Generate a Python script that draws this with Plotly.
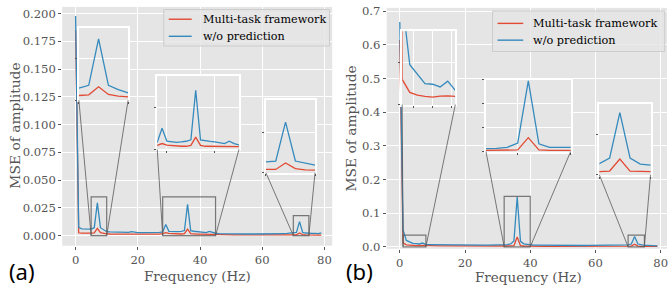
import plotly.graph_objects as go

W, H = 668, 294

# ---------------- data ----------------
freq = list(range(80))

a_multi = [0.185, 0.0026, 0.0023, 0.0022, 0.0022, 0.0023, 0.0026, 0.0065, 0.0028, 0.0020,
           0.0016, 0.0015, 0.0015, 0.0014, 0.0014, 0.0014, 0.0013, 0.0013, 0.0016, 0.0013,
           0.0013, 0.0013, 0.0012, 0.0012, 0.0012, 0.0012, 0.0012, 0.0014, 0.0019, 0.0028,
           0.0020, 0.0018, 0.0015, 0.0015, 0.0015, 0.0019, 0.0059, 0.0019, 0.0015, 0.0014,
           0.0014, 0.0013, 0.0013, 0.0012, 0.0011, 0.0008, 0.0008, 0.0008, 0.0008, 0.0008,
           0.0008, 0.0008, 0.0008, 0.0008, 0.0008, 0.0008, 0.0008, 0.0008, 0.0008, 0.0008,
           0.0008, 0.0008, 0.0008, 0.0008, 0.0009, 0.0008, 0.0009, 0.0008, 0.0008, 0.0008,
           0.0008, 0.0008, 0.0024, 0.0010, 0.0007, 0.0005, 0.0005, 0.0005, 0.0005, 0.0005]

a_wo = [0.198, 0.0075, 0.0062, 0.0060, 0.0060, 0.0059, 0.0072, 0.0296, 0.0072, 0.0051,
        0.0036, 0.0034, 0.0033, 0.0032, 0.0031, 0.0030, 0.0030, 0.0029, 0.0036, 0.0029,
        0.0028, 0.0028, 0.0028, 0.0027, 0.0027, 0.0027, 0.0026, 0.0030, 0.0034, 0.0101,
        0.0039, 0.0036, 0.0034, 0.0036, 0.0039, 0.0046, 0.0283, 0.0045, 0.0040, 0.0038,
        0.0036, 0.0032, 0.0028, 0.0039, 0.0028, 0.0022, 0.0019, 0.0018, 0.0018, 0.0017,
        0.0017, 0.0017, 0.0016, 0.0016, 0.0016, 0.0016, 0.0015, 0.0015, 0.0016, 0.0015,
        0.0015, 0.0016, 0.0016, 0.0017, 0.0022, 0.0018, 0.0024, 0.0019, 0.0020, 0.0022,
        0.0027, 0.0029, 0.0126, 0.0029, 0.0024, 0.0019, 0.0020, 0.0021, 0.0019, 0.0026]

b_multi = [0.614, 0.012, 0.0058, 0.0045, 0.0039, 0.0036, 0.0040, 0.0042, 0.0039, 0.0035,
           0.0033, 0.0031, 0.0030, 0.0029, 0.0028, 0.0027, 0.0026, 0.0025, 0.0025, 0.0024,
           0.0023, 0.0023, 0.0022, 0.0022, 0.0021, 0.0021, 0.0021, 0.0020, 0.0020, 0.0020,
           0.0020, 0.0020, 0.0020, 0.0025, 0.0030, 0.0034, 0.029, 0.0034, 0.0025, 0.0020,
           0.0014, 0.0014, 0.0014, 0.0014, 0.0014, 0.0014, 0.0014, 0.0014, 0.0014, 0.0014,
           0.0014, 0.0014, 0.0014, 0.0014, 0.0014, 0.0014, 0.0014, 0.0014, 0.0015, 0.0015,
           0.0015, 0.0015, 0.0015, 0.0015, 0.0015, 0.0015, 0.0015, 0.0016, 0.0016, 0.0016,
           0.0016, 0.0019, 0.0078, 0.0019, 0.0016, 0.0013, 0.0013, 0.0012, 0.0012, 0.0011]

b_wo = [0.668, 0.050, 0.0190, 0.0146, 0.0100, 0.0097, 0.0084, 0.0112, 0.0068, 0.0065,
        0.0063, 0.0062, 0.0060, 0.0059, 0.0058, 0.0057, 0.0056, 0.0055, 0.0055, 0.0054,
        0.0053, 0.0053, 0.0052, 0.0052, 0.0051, 0.0051, 0.0050, 0.0050, 0.0050, 0.0051,
        0.0052, 0.0053, 0.0054, 0.0068, 0.0088, 0.0176, 0.148, 0.0163, 0.0088, 0.0068,
        0.0054, 0.0050, 0.0048, 0.0046, 0.0045, 0.0044, 0.0043, 0.0042, 0.0042, 0.0041,
        0.0040, 0.0040, 0.0039, 0.0039, 0.0038, 0.0038, 0.0038, 0.0039, 0.0040, 0.0041,
        0.0042, 0.0043, 0.0044, 0.0045, 0.0046, 0.0047, 0.0048, 0.0050, 0.0052, 0.0054,
        0.0056, 0.0083, 0.0307, 0.0083, 0.0053, 0.0045, 0.0040, 0.0038, 0.0035, 0.0030]

series_names = ['Multi-task framework', 'w/o prediction']

# zoom regions (x0, x1, y_top) ; y bottom is 0
a_zooms = [(5, 10, 0.035), (28, 45, 0.035), (70, 75, 0.018)]
b_zooms = [(1, 8, 0.035), (32, 40, 0.15), (70, 75, 0.035)]
a_inset_yticks = [[0, 0.02], [0, 0.02], [0, 0.01]]
b_inset_yticks = [[0, 0.02], [0, 0.05, 0.10, 0.15], [0, 0.02]]
a_inset_xticks = [[5, 10], [30, 40], [70, 75]]
b_inset_xticks = [[2.5, 5, 7.5], [35, 40], [70, 75]]

a_yticks = [0, 0.025, 0.05, 0.075, 0.1, 0.125, 0.15, 0.175, 0.2]
b_yticks = [0, 0.1, 0.2, 0.3, 0.4, 0.5, 0.6, 0.7]
xticks = [0, 20, 40, 60, 80]

RED = '#E24A33'
BLUE = '#348ABD'
BG = '#E5E5E5'
TXT = '#555555'
SERIF = 'DejaVu Serif'
BOXC = 'rgba(90,90,90,0.8)'
TICKFS = 11.6

# ---------------- geometry (pixels) ----------------
def dx(p0, p1):
    return [p0 / W, p1 / W]

def dy(top, bottom):
    return [1 - bottom / H, 1 - top / H]

main_geo = {
    'a': dict(xd=dx(62.3, 332.7), yd=dy(3, 249.3), xr=[-4.3, 82.5], yr=[-0.009, 0.2061]),
    'b': dict(xd=dx(387.3, 668), yd=dy(4, 252.5), xr=[-4.01, 81.93], yr=[-0.0058, 0.7096]),
}
inset_px = {
    'a': [(79, 128.3, 24.3, 99.3), (157.5, 239.3, 74.5, 150), (266.3, 315.5, 99.5, 174)],
    'b': [(402.8, 456, 28, 103.8), (486.7, 571.5, 78.3, 152.2), (600.3, 651.5, 103, 176.3)],
}
# legend boxes: left, right, top, bottom, row1 y, row2 y, line x0, line x1, text x, font size
legend_px = {
    'a': (164, 330, 5.7, 43.3, 15.7, 33.3, 169, 192, 201, 11.2),
    'b': (493.3, 665.7, 7.3, 49, 20, 37.3, 498.3, 524, 532, 11.3),
}

fig = go.Figure()
layout = dict(
    width=W, height=H, margin=dict(l=0, r=0, t=0, b=0),
    paper_bgcolor='white', plot_bgcolor=BG,
    showlegend=False,
)

def axis_common():
    return dict(showgrid=True, gridcolor='white', gridwidth=1.1,
                zeroline=True, zerolinecolor='white', zerolinewidth=1.1,
                ticks='outside', tickcolor=TXT, ticklen=3, tickwidth=1,
                showline=False, fixedrange=True)

panels = [('a', a_multi, a_wo, a_yticks, '.3f', a_zooms, a_inset_xticks, a_inset_yticks),
          ('b', b_multi, b_wo, b_yticks, '.1f', b_zooms, b_inset_xticks, b_inset_yticks)]

# main subplots first (axis 1 and 2), then insets (3..8)
for k, (name, multi, wo, yt, yfmt, zooms, ixt, iyt) in enumerate(panels):
    n = k + 1
    xa = 'x' if n == 1 else f'x{n}'
    ya = 'y' if n == 1 else f'y{n}'
    fig.add_trace(go.Scatter(x=freq, y=multi, mode='lines', name=series_names[0],
                             line=dict(color=RED, width=1.3), xaxis=xa, yaxis=ya))
    fig.add_trace(go.Scatter(x=freq, y=wo, mode='lines', name=series_names[1],
                             line=dict(color=BLUE, width=1.3), xaxis=xa, yaxis=ya))
    g = main_geo[name]
    xkey = 'xaxis' if n == 1 else f'xaxis{n}'
    ykey = 'yaxis' if n == 1 else f'yaxis{n}'
    layout[xkey] = dict(axis_common(), domain=g['xd'], range=g['xr'], anchor=ya,
                        tickvals=xticks, ticklabeloverflow='allow',
                        tickfont=dict(family=SERIF, size=TICKFS, color=TXT))
    layout[ykey] = dict(axis_common(), domain=g['yd'], range=g['yr'], anchor=xa,
                        tickvals=yt, tickformat=yfmt,
                        tickfont=dict(family=SERIF, size=TICKFS, color=TXT))

shapes = []
annotations = []
n = 3
for k, (name, multi, wo, yt, yfmt, zooms, ixt, iyt) in enumerate(panels):
    g = main_geo[name]
    mxa = 'x' if k == 0 else 'x2'
    mya = 'y' if k == 0 else 'y2'

    def to_px_x(v, g=g):
        f = (v - g['xr'][0]) / (g['xr'][1] - g['xr'][0])
        return g['xd'][0] + f * (g['xd'][1] - g['xd'][0])

    def to_px_y(v, g=g):
        f = (v - g['yr'][0]) / (g['yr'][1] - g['yr'][0])
        return g['yd'][0] + f * (g['yd'][1] - g['yd'][0])

    for j, (z0, z1, ztop) in enumerate(zooms):
        xa, ya = f'x{n}', f'y{n}'
        for vals, col in ((multi, RED), (wo, BLUE)):
            fig.add_trace(go.Scatter(x=freq, y=vals, mode='lines', showlegend=False,
                                     line=dict(color=col, width=1.3), xaxis=xa, yaxis=ya,
                                     hoverinfo='skip'))
        l, r, t, b = inset_px[name][j]
        layout[f'xaxis{n}'] = dict(axis_common(), domain=dx(l, r), range=[z0, z1], anchor=ya,
                                   tickvals=ixt[j], showticklabels=False, ticklen=2,
                                   showline=True, linecolor='white', linewidth=1.5, mirror=True)
        layout[f'yaxis{n}'] = dict(axis_common(), domain=dy(t, b), range=[0, ztop], anchor=xa,
                                   tickvals=iyt[j], showticklabels=False, ticklen=2,
                                   showline=True, linecolor='white', linewidth=1.5, mirror=True)
        # zoom box in main axes
        shapes.append(dict(type='rect', xref=mxa, yref=mya, x0=z0, x1=z1, y0=0, y1=ztop,
                           line=dict(color=BOXC, width=1.2), layer='above'))
        # connectors from inset bottom corners to box bottom corners
        for ix, zx in ((l, z0), (r, z1)):
            shapes.append(dict(type='line', xref='paper', yref='paper',
                               x0=ix / W, y0=1 - b / H, x1=to_px_x(zx), y1=to_px_y(0),
                               line=dict(color=BOXC, width=1.0), layer='above'))
        n += 1

    # legend (drawn as box + sample lines + labels)
    L, R, T, B, r1, r2, lx0, lx1, tx, fs = legend_px[name]
    shapes.append(dict(type='rect', xref='paper', yref='paper', x0=L / W, x1=R / W,
                       y0=1 - B / H, y1=1 - T / H, fillcolor='rgba(229,229,229,0.8)',
                       line=dict(color='#CCCCCC', width=1), layer='above'))
    for ry, col, label in ((r1, RED, series_names[0]), (r2, BLUE, series_names[1])):
        shapes.append(dict(type='line', xref='paper', yref='paper', x0=lx0 / W, x1=lx1 / W,
                           y0=1 - ry / H, y1=1 - ry / H, line=dict(color=col, width=1.4),
                           layer='above'))
        annotations.append(dict(text=label, x=tx / W, y=1 - ry / H, xref='paper', yref='paper',
                                showarrow=False, xanchor='left', yanchor='middle',
                                font=dict(family=SERIF, size=fs, color='black')))

layout['shapes'] = shapes

annotations += [
    dict(text='Frequency (Hz)', x=198 / W, y=1 - 280.5 / H, xref='paper', yref='paper',
         showarrow=False, font=dict(family=SERIF, size=13.5, color=TXT), xanchor='center', yanchor='middle'),
    dict(text='Frequency (Hz)', x=529 / W, y=1 - 282 / H, xref='paper', yref='paper',
         showarrow=False, font=dict(family=SERIF, size=13.5, color=TXT), xanchor='center', yanchor='middle'),
    dict(text='MSE of amplitude', x=15.5 / W, y=1 - 125 / H, xref='paper', yref='paper', textangle=-90,
         showarrow=False, font=dict(family=SERIF, size=13.8, color=TXT), xanchor='center', yanchor='middle'),
    dict(text='MSE of amplitude', x=352 / W, y=1 - 128 / H, xref='paper', yref='paper', textangle=-90,
         showarrow=False, font=dict(family=SERIF, size=13.8, color=TXT), xanchor='center', yanchor='middle'),
    dict(text='(a)', x=22.5 / W, y=1 - 275 / H, xref='paper', yref='paper',
         showarrow=False, font=dict(family='Noto Sans', size=22, color='black'), xanchor='center', yanchor='middle'),
    dict(text='(b)', x=360 / W, y=1 - 275 / H, xref='paper', yref='paper',
         showarrow=False, font=dict(family='Noto Sans', size=22, color='black'), xanchor='center', yanchor='middle'),
]
layout['annotations'] = annotations

fig.update_layout(**layout)
fig.write_html('out.html', config={'displayModeBar': False},
               post_script="document.body.style.margin='0px';document.body.style.overflow='hidden';")
